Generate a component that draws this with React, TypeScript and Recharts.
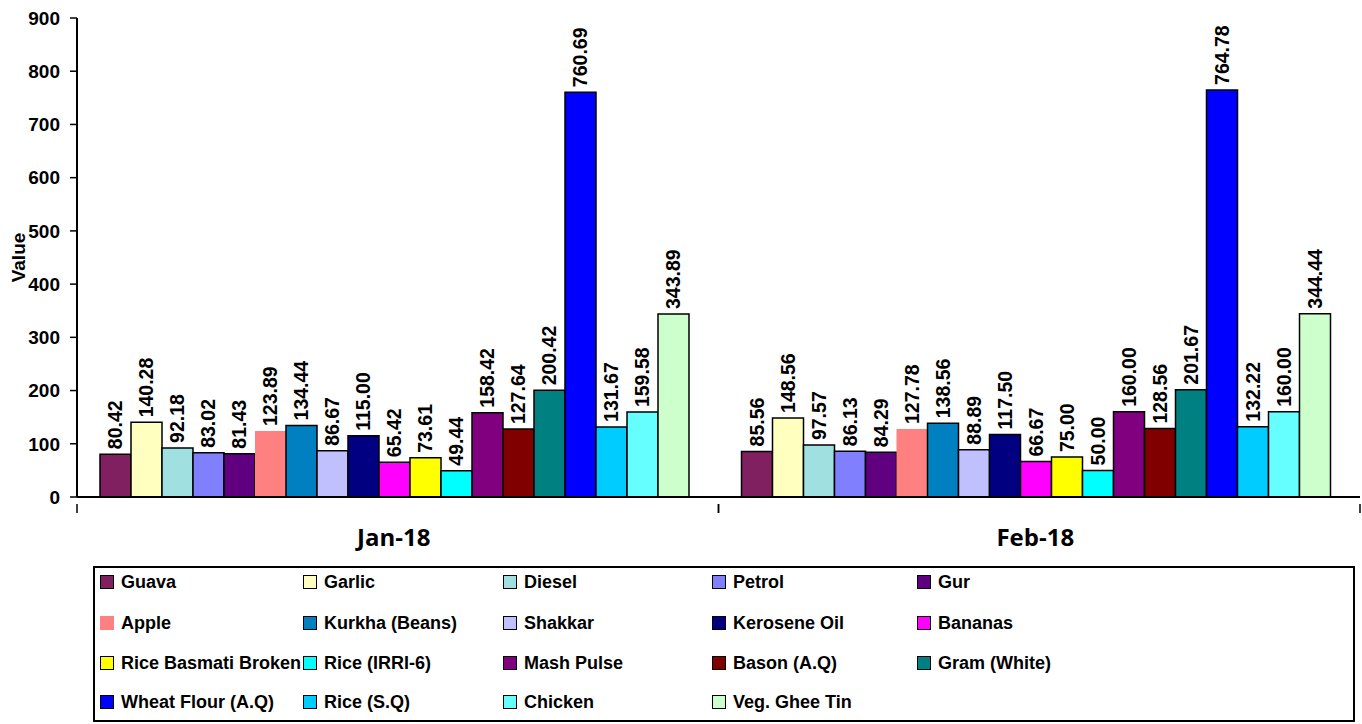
import React from 'react';
import { BarChart, Bar, XAxis, YAxis, LabelList } from 'recharts';

const categories = ['Jan-18', 'Feb-18'];

const seriesNames = [
  'Guava', 'Garlic', 'Diesel', 'Petrol', 'Gur',
  'Apple', 'Kurkha (Beans)', 'Shakkar', 'Kerosene Oil', 'Bananas',
  'Rice Basmati Broken', 'Rice (IRRI-6)', 'Mash Pulse', 'Bason (A.Q)', 'Gram (White)',
  'Wheat Flour (A.Q)', 'Rice (S.Q)', 'Chicken', 'Veg. Ghee Tin',
];

const jan18 = [80.42, 140.28, 92.18, 83.02, 81.43, 123.89, 134.44, 86.67, 115.0, 65.42, 73.61, 49.44, 158.42, 127.64, 200.42, 760.69, 131.67, 159.58, 343.89];
const feb18 = [85.56, 148.56, 97.57, 86.13, 84.29, 127.78, 138.56, 88.89, 117.5, 66.67, 75.0, 50.0, 160.0, 128.56, 201.67, 764.78, 132.22, 160.0, 344.44];

const colors = [
  '#802060', '#FFFFC0', '#A0E0E0', '#8080FF', '#600080',
  '#FF8080', '#0080C0', '#C0C0FF', '#000080', '#FF00FF',
  '#FFFF00', '#00FFFF', '#800080', '#800000', '#008080',
  '#0000FF', '#00CCFF', '#66FFFF', '#CCFFCC',
];

const noBorder = ['Apple'];

const yTicks = [0, 100, 200, 300, 400, 500, 600, 700, 800, 900];

const seriesValues = [jan18, feb18];

const data = categories.map((c, ci) => {
  const row: Record<string, any> = { month: c };
  seriesNames.forEach((s, si) => {
    row['s' + si] = seriesValues[ci][si];
  });
  return row;
});

const FONT = '"Liberation Sans", Arial, sans-serif';

const ValueLabel = (props: any) => {
  const { x, y, width, value } = props;
  const cx = Number(x) + Number(width) / 2;
  const cy = Number(y) - 5;
  return (
    <text
      x={cx}
      y={cy}
      transform={`rotate(-90, ${cx}, ${cy})`}
      textAnchor="start"
      dominantBaseline="central"
      fontFamily={FONT}
      fontWeight={700}
      fontSize={19.5}
      fill="#000"
    >
      {Number(value).toFixed(2)}
    </text>
  );
};

const XTick = (props: any) => {
  const { x, y, payload } = props;
  const half = payload && payload.offset ? payload.offset : 320.75;
  return (
    <g>
      <line x1={x - half} y1={y - 1} x2={x - half} y2={y + 8} stroke="#000" strokeWidth={1.5} />
      <line x1={x + half} y1={y - 1} x2={x + half} y2={y + 8} stroke="#000" strokeWidth={1.5} />
      <text
        x={x - 4}
        y={y + 31}
        textAnchor="middle"
        dominantBaseline="central"
        fontFamily='"Open Sans", sans-serif'
        fontWeight={700}
        fontSize={24}
        fill="#000"
      >
        {payload.value}
      </text>
    </g>
  );
};

const legendCols = [100, 303, 503, 712, 917];
const legendRows = [582, 623, 663, 702];

export default function App() {
  return (
    <div style={{ position: 'absolute', left: 0, top: 0, width: 1362, height: 724, background: '#fff' }}>
      <BarChart
        width={1362}
        height={724}
        data={data}
        margin={{ top: 18, right: 2, left: 0, bottom: 167 }}
        barCategoryGap={23}
        barGap={0}
      >
        <XAxis
          dataKey="month"
          height={60}
          axisLine={{ stroke: '#000', strokeWidth: 2 }}
          tickLine={false}
          tick={<XTick />}
          interval={0}
        />
        <YAxis
          width={77}
          domain={[0, 900]}
          ticks={yTicks}
          interval={0}
          axisLine={{ stroke: '#000', strokeWidth: 2 }}
          tickLine={{ stroke: '#000', strokeWidth: 1.5 }}
          tickSize={7}
          tickMargin={10}
          tick={{ fontFamily: FONT, fontWeight: 700, fontSize: 19, fill: '#000' }}
          label={{
            value: 'Value',
            angle: -90,
            position: 'insideLeft',
            offset: 0,
            dx: 18,
            style: { fontFamily: FONT, fontWeight: 700, fontSize: 19, fill: '#000', textAnchor: 'middle' },
          }}
        />
        {seriesNames.map((s, si) => (
          <Bar
            key={s}
            dataKey={'s' + si}
            name={s}
            fill={colors[si]}
            stroke={noBorder.includes(s) ? 'none' : '#000'}
            strokeWidth={1.5}
            isAnimationActive={false}
          >
            <LabelList dataKey={'s' + si} content={<ValueLabel />} />
          </Bar>
        ))}
      </BarChart>
      <div
        style={{
          position: 'absolute',
          left: 93,
          top: 566,
          width: 1262,
          height: 156,
          border: '2px solid #000',
          boxSizing: 'border-box',
        }}
      />
      {seriesNames.map((s, si) => {
        const col = si % 5;
        const row = Math.floor(si / 5);
        return (
          <div
            key={s}
            style={{
              position: 'absolute',
              left: legendCols[col],
              top: legendRows[row] - 12,
              height: 24,
              display: 'flex',
              alignItems: 'center',
              fontFamily: FONT,
              fontWeight: 700,
              fontSize: 18,
              color: '#000',
              whiteSpace: 'nowrap',
            }}
          >
            <span
              style={{
                display: 'inline-block',
                width: 12,
                height: 12,
                background: colors[si],
                border: noBorder.includes(s) ? '1.5px solid transparent' : '1.5px solid #000',
                marginRight: 7,
              }}
            />
            {s}
          </div>
        );
      })}
    </div>
  );
}
